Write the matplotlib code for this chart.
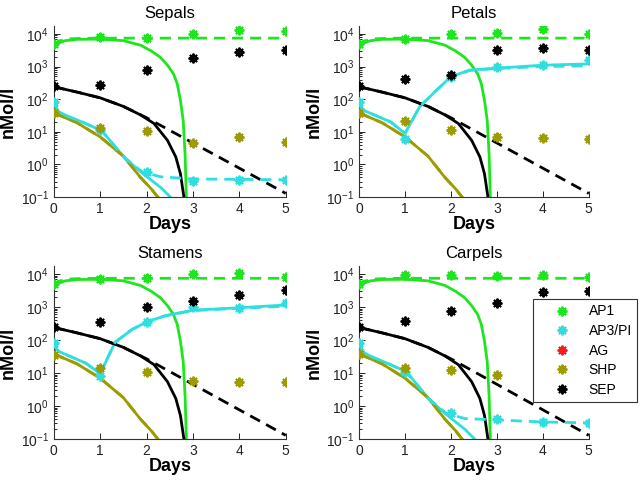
import numpy as np
import matplotlib.pyplot as plt
from matplotlib.ticker import LogLocator, NullFormatter
from matplotlib.lines import Line2D

plt.rcParams['font.family'] = ['Liberation Sans', 'DejaVu Sans']
plt.rcParams['mathtext.fontset'] = 'custom'
plt.rcParams['mathtext.rm'] = 'Liberation Sans'

GREEN = '#1ee61e'
CYAN = '#2fdede'
OLIVE = '#9c9c00'
RED = '#ff1a1a'
BLACK = '#000000'

# measured data (stars), days 0..5
days = [0, 1, 2, 3, 4, 5]

sepals_ap1 = [5000, 8100, 7600, 9600, 13000, 12500]
sepals_ap3 = [80, 11, 0.6, 0.32, 0.34, 0.34]
sepals_shp = [38, 13, 10.5, 4.6, 6.9, 4.9]
sepals_sep = [250, 270, 770, 1770, 2700, 3300]

petals_ap1 = [5000, 7000, 10000, 10700, 14000, 10000]
petals_ap3 = [80, 6, 480, 950, 1150, 1550]
petals_shp = [38, 22, 11.5, 7, 6.6, 5.9]
petals_sep = [250, 420, 550, 3150, 3600, 3150]

stamens_ap1 = [5000, 7000, 7400, 10000, 10700, 8300]
stamens_ap3 = [80, 8.3, 360, 980, 910, 1320]
stamens_shp = [36, 14, 11, 5.9, 5.5, 5.5]
stamens_sep = [250, 360, 980, 1480, 2300, 3300]

carpels_ap1 = [5000, 9300, 9300, 9000, 9300, 8300]
carpels_ap3 = [80, 11, 0.6, 0.4, 0.33, 0.3]
carpels_shp = [38, 14, 12, 9, 7, 6]
carpels_sep = [250, 390, 740, 1320, 2900, 3150]

# AG never shows up on the log axis
ag_data = [0, 0, 0, 0, 0, 0]

# simulated curves shared by all organs (solid)
t_ap1 = [0, 0.1, 0.25, 0.5, 1.0, 1.5, 1.87, 2.1, 2.3, 2.45, 2.58, 2.66, 2.73, 2.79, 2.83, 2.86]
ap1_sim = [4300, 5200, 6200, 6800, 6900, 6200, 4500, 3000, 1900, 1100, 600, 300, 93, 22, 2.1, 0.08]
t_sep = [0, 0.5, 1.0, 1.5, 1.87, 2.16, 2.45, 2.63, 2.73, 2.81]
sep_sim = [240, 165, 110, 60, 33, 18, 5.5, 1.7, 0.52, 0.09]
t_shp = [0, 0.5, 1.0, 1.5, 1.87, 2.1, 2.27]
shp_sim = [38, 19, 7, 1.8, 0.4, 0.18, 0.09]

# dashed curves
t_ap1_d = [0, 0.1, 0.3, 0.6, 1.0, 5.0]
ap1_dash = [4300, 6000, 7000, 7300, 7400, 7400]
t_sep_d = [0, 0.5, 1.0, 1.5, 2.0, 5.0]
sep_dash = [240, 165, 110, 60, 27, 0.13]

# AP3/PI curves, organ specific
t_ap3_down = [0, 0.05, 0.11, 0.3, 0.54, 1.03, 1.51, 1.87, 2.3, 2.55]
ap3_down = [81, 55, 41, 30, 22, 11, 1.7, 0.6, 0.2, 0.09]
t_ap3_down_d = [0, 0.05, 0.11, 0.3, 0.54, 1.03, 1.51, 1.9, 2.3, 3, 4, 5]
sepals_ap3_d = [81, 55, 41, 30, 22, 11, 1.7, 0.6, 0.42, 0.36, 0.35, 0.34]
carpels_ap3_d = [81, 55, 41, 30, 22, 11, 1.7, 0.6, 0.42, 0.38, 0.33, 0.31]

t_ap3_up = [0, 0.05, 0.11, 0.33, 0.69, 1.0, 1.32, 1.69, 2.0, 2.41, 3, 4, 5]
petals_ap3_sim = [83, 55, 45, 33, 20, 9, 59, 190, 490, 780, 890, 1100, 1200]
petals_ap3_d = [83, 55, 45, 33, 20, 9, 59, 190, 480, 760, 870, 1000, 1050]
stamens_ap3_sim = [80, 55, 45, 33, 20, 9.5, 85, 210, 350, 550, 800, 950, 1150]
stamens_ap3_d = [80, 55, 45, 33, 20, 9.5, 85, 210, 350, 540, 780, 920, 1050]

titles = ['Sepals', 'Petals', 'Stamens', 'Carpels']
data = [
    (sepals_ap1, sepals_ap3, sepals_shp, sepals_sep),
    (petals_ap1, petals_ap3, petals_shp, petals_sep),
    (stamens_ap1, stamens_ap3, stamens_shp, stamens_sep),
    (carpels_ap1, carpels_ap3, carpels_shp, carpels_sep),
]
ap3_curves = [
    (t_ap3_down, ap3_down, t_ap3_down_d, sepals_ap3_d),
    (t_ap3_up, petals_ap3_sim, t_ap3_up, petals_ap3_d),
    (t_ap3_up, stamens_ap3_sim, t_ap3_up, stamens_ap3_d),
    (t_ap3_down, ap3_down, t_ap3_down_d, carpels_ap3_d),
]

# axes boxes in figure fractions (left, bottom, width, height)
boxes = [
    (0.084, 0.591, 0.3625, 0.355),
    (0.561, 0.591, 0.359, 0.355),
    (0.084, 0.089, 0.3625, 0.359),
    (0.561, 0.089, 0.359, 0.359),
]

fig = plt.figure(figsize=(6.4, 4.82), dpi=100)
star = (8, 2, 0)
dash = (4, 2.5)

for i in range(4):
    ax = fig.add_axes(boxes[i])
    ap1, ap3, shp, sep = data[i]
    ta, ya, tad, yad = ap3_curves[i]

    # solid simulations
    ax.plot(t_ap1, ap1_sim, color=GREEN, lw=2)
    ax.plot(t_sep, sep_sim, color=BLACK, lw=2)
    ax.plot(t_shp, shp_sim, color=OLIVE, lw=2)
    ax.plot(ta, ya, color=CYAN, lw=2)
    # dashed
    ax.plot(t_ap1_d, ap1_dash, color=GREEN, lw=2, dashes=dash)
    ax.plot(t_sep_d, sep_dash, color=BLACK, lw=2, dashes=dash)
    ax.plot(t_shp, shp_sim, color=OLIVE, lw=2, dashes=dash)
    ax.plot(tad, yad, color=CYAN, lw=2, dashes=dash)

    # data stars
    for vals, c in [(ap1, GREEN), (ap3, CYAN), (ag_data, RED), (shp, OLIVE), (sep, BLACK)]:
        ax.plot(days, vals, ls='none', marker=star, ms=7, mew=1.4, color=c, zorder=5)

    ax.set_yscale('log', nonpositive='mask')
    ax.set_ylim(0.1, 10 ** 4.24)
    ax.set_xlim(0, 5)
    ax.set_xticks(days)
    ax.yaxis.set_major_locator(LogLocator(base=10, numticks=10))
    ax.yaxis.set_minor_locator(LogLocator(base=10, subs=np.arange(2, 10), numticks=10))
    ax.yaxis.set_minor_formatter(NullFormatter())
    ax.tick_params(direction='in', labelsize=10, length=4, width=0.7, colors='#222222')
    ax.tick_params(which='minor', direction='in', length=2, width=0.6)
    ax.spines['top'].set_visible(False)
    ax.spines['right'].set_visible(False)
    for s in ['left', 'bottom']:
        ax.spines[s].set_color('#333333')
        ax.spines[s].set_linewidth(0.8)

    ax.set_title(titles[i], fontsize=12, pad=6)
    ax.set_xlabel('Days', fontsize=13, fontweight='bold')
    ax.set_ylabel('nMol/l', fontsize=13, fontweight='bold')
    ax.xaxis.set_label_coords(0.5, -0.11)
    ax.yaxis.set_label_coords(-0.16, 0.5)

handles = [Line2D([], [], ls='none', marker=star, ms=7, mew=1.4, color=c)
           for c in [GREEN, CYAN, RED, OLIVE, BLACK]]
leg = fig.legend(handles, ['AP1', 'AP3/PI', 'AG', 'SHP', 'SEP'],
                 loc='upper left', bbox_to_anchor=(0.833, 0.38), borderaxespad=0,
                 fontsize=10, frameon=True, fancybox=False, framealpha=1,
                 edgecolor='#333333', labelspacing=0.4, handletextpad=0.2,
                 borderpad=0.4, handlelength=3.4)
leg.get_frame().set_linewidth(0.8)
leg.set_zorder(10)

fig.savefig('out.png', dpi=100)
